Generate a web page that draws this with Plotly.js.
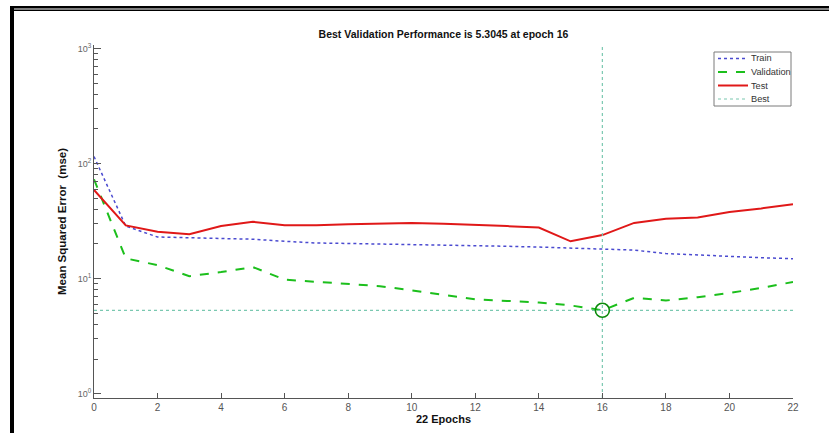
<!DOCTYPE html>
<html>
<head>
<meta charset="utf-8">
<script src="https://cdn.plot.ly/plotly-3.0.1.min.js"></script>
<style>
html,body{margin:0;padding:0;background:#fff;}
#chart{width:829px;height:433px;}
</style>
</head>
<body>
<div id="chart"></div>
<script>
// ---- data ----
const epochs = [0,1,2,3,4,5,6,7,8,9,10,11,12,13,14,15,16,17,18,19,20,21,22];
const trainMSE = [115,28.6,23.0,22.6,22.3,22.0,21.1,20.4,20.2,20.0,19.9,19.7,19.4,19.1,18.8,18.5,18.0,17.7,16.5,16.0,15.6,15.2,14.9];
const validationMSE = [73,15.0,13.1,10.5,11.4,12.6,9.8,9.35,9.0,8.6,7.9,7.2,6.6,6.4,6.2,5.85,5.3045,6.8,6.45,6.9,7.5,8.3,9.35];
const testMSE = [59,29,25.5,24.3,28.6,31.2,29.1,29.1,29.7,30.0,30.5,30.0,29.1,28.6,27.8,21.1,23.9,30.5,33.2,34.0,38.0,40.7,44.4];
const bestEpoch = 16;
const bestPerf = 5.3045;
const seriesNames = ['Train', 'Validation', 'Test', 'Best'];
const xTickVals = [0,2,4,6,8,10,12,14,16,18,20,22];
const yTickVals = [1,10,100,1000];
const yTickText = ['10<sup>0</sup>','10<sup>1</sup>','10<sup>2</sup>','10<sup>3</sup>'];
const yMinorVals = [2,3,4,5,6,7,8,9,20,30,40,50,60,70,80,90,200,300,400,500,600,700,800,900];
const yRange = [1/1.09, 1000*1.072];

// ---- layout geometry (pixels) ----
const W = 829, H = 433, L = 94, R = 36, T = 45, B = 35;
const PW = W - L - R, PH = H - T - B;
const px = v => (v - L) / PW;
const py = v => (H - B - v) / PH;

const font = '"Liberation Sans", Arial, sans-serif';

const styles = [
  {color: '#4a4ad0', width: 1.5, dash: 'dot'},
  {color: '#1cbf1c', width: 2, dash: 'dash'},
  {color: '#e01818', width: 2, dash: 'solid'},
  {color: '#7ac8b0', width: 1.2, dash: 'dot'}
];

const traces = [
  {x: epochs, y: trainMSE, name: seriesNames[0], mode: 'lines', line: styles[0], showlegend: false},
  {x: epochs, y: validationMSE, name: seriesNames[1], mode: 'lines', line: styles[1], showlegend: false},
  {x: epochs, y: testMSE, name: seriesNames[2], mode: 'lines', line: styles[2], showlegend: false},
  {x: [epochs[0], epochs[epochs.length-1], null, bestEpoch, bestEpoch],
   y: [bestPerf, bestPerf, null, yRange[0], yRange[1]],
   name: seriesNames[3], mode: 'lines', connectgaps: false, line: styles[3], showlegend: false},
  {x: [bestEpoch], y: [bestPerf], mode: 'markers', showlegend: false,
   marker: {symbol: 'circle-open', size: 14, color: '#0a8a0a', line: {width: 1.6, color: '#0a8a0a'}}}
];

// custom compact legend (box, line samples, labels)
const legBox = {x0: 714, x1: 791, y0: 52, y1: 106};
const legRowY = [58.5, 72, 85.5, 99];
const shapes = [
  {type: 'rect', xref: 'paper', yref: 'paper', x0: px(10), x1: px(829), y0: py(6), y1: py(8.5),
   fillcolor: '#000000', line: {width: 0}, layer: 'above'},
  {type: 'rect', xref: 'paper', yref: 'paper', x0: px(14), x1: px(829), y0: py(9.5), y1: py(11),
   fillcolor: '#000000', line: {width: 0}, layer: 'above'},
  {type: 'rect', xref: 'paper', yref: 'paper', x0: px(10), x1: px(14), y0: py(6), y1: py(433),
   fillcolor: '#000000', line: {width: 0}, layer: 'above'},
  {type: 'rect', xref: 'paper', yref: 'paper', x0: px(legBox.x0), x1: px(legBox.x1),
   y0: py(legBox.y1), y1: py(legBox.y0), fillcolor: '#ffffff', line: {color: '#7a7a7a', width: 1}, layer: 'above'}
];
const annotations = [];
seriesNames.forEach((n, i) => {
  shapes.push({type: 'line', xref: 'paper', yref: 'paper', x0: px(718), x1: px(748),
    y0: py(legRowY[i]), y1: py(legRowY[i]), line: styles[i], layer: 'above'});
  annotations.push({text: n, xref: 'paper', yref: 'paper', x: px(748.5), y: py(legRowY[i]),
    xanchor: 'left', yanchor: 'middle', showarrow: false,
    font: {family: font, size: 9.2, color: '#333333'}});
});

const layout = {
  width: W, height: H,
  margin: {l: L, r: R, t: T, b: B, pad: 0},
  paper_bgcolor: '#ffffff', plot_bgcolor: '#ffffff',
  font: {family: font, size: 10, color: '#555555'},
  showlegend: false,
  title: {text: 'Best Validation Performance is 5.3045 at epoch 16',
          font: {family: font, size: 10.5, color: '#111111', weight: 'bold'},
          x: 0.5, xref: 'paper', xanchor: 'center', y: 1 - 34/H, yanchor: 'middle'},
  xaxis: {
    range: [0, 22], tickvals: xTickVals, ticks: 'inside', ticklen: 5, tickcolor: '#555555',
    showline: true, linecolor: '#555555', linewidth: 1, mirror: false,
    showgrid: false, zeroline: false,
    tickfont: {family: font, size: 10, color: '#555555'},
    title: {text: '22 Epochs', font: {family: font, size: 11, color: '#111111', weight: 'bold'}, standoff: 2}
  },
  yaxis: {
    type: 'log', range: [Math.log10(yRange[0]), Math.log10(yRange[1])],
    tickvals: yTickVals, ticktext: yTickText, ticks: 'inside', ticklen: 7, tickcolor: '#555555',
    minor: {tickvals: yMinorVals, ticks: 'inside', ticklen: 4, tickcolor: '#555555', showgrid: false},
    showline: true, linecolor: '#555555', linewidth: 1, mirror: false,
    showgrid: false, zeroline: false,
    tickfont: {family: font, size: 9, color: '#666666'},
    title: {text: 'Mean Squared Error  (mse)', font: {family: font, size: 11.5, color: '#111111', weight: 'bold'}, standoff: 8}
  },
  shapes: shapes,
  annotations: annotations
};

Plotly.newPlot('chart', traces, layout, {displayModeBar: false, staticPlot: true});
</script>
</body>
</html>
